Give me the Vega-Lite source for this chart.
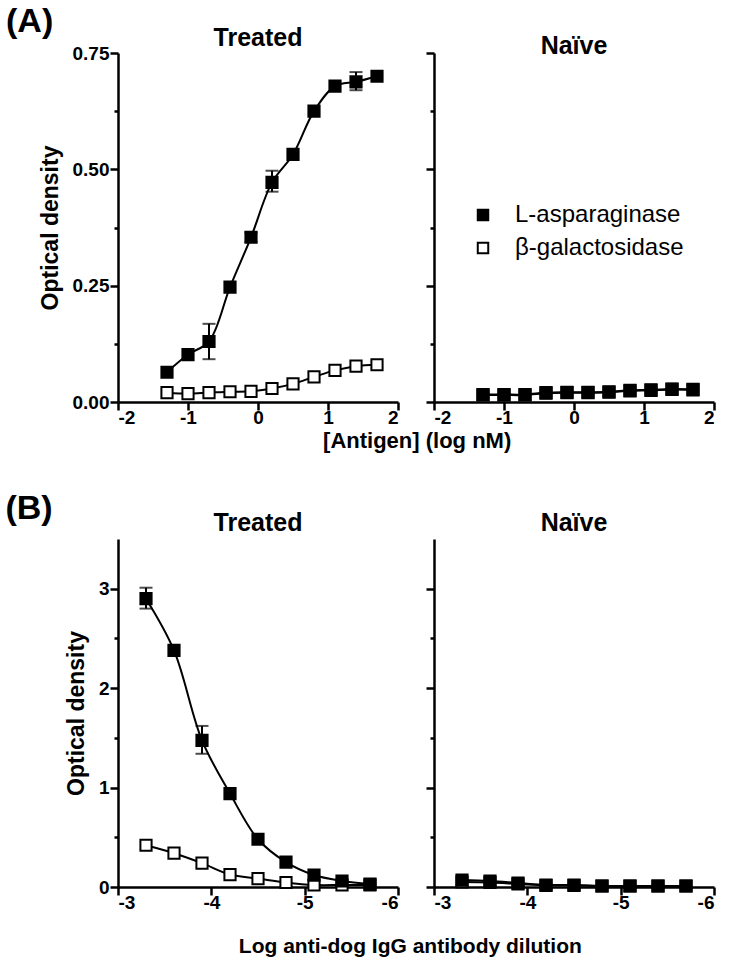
{
  "$schema": "https://vega.github.io/schema/vega-lite/v6.json",
  "background": "white",
  "padding": 5,
  "config": {
    "font": "Liberation Sans",
    "view": {"stroke": null},
    "axis": {
      "grid": false,
      "domainColor": "black",
      "domainWidth": 2.5,
      "tickColor": "black",
      "tickWidth": 2.5,
      "tickSize": 8,
      "labelColor": "black",
      "labelFont": "Liberation Sans",
      "labelFontWeight": "bold",
      "labelFontSize": 19,
      "labelPadding": 1,
      "titleColor": "black",
      "titleFont": "Liberation Sans",
      "titleFontWeight": "bold",
      "titleFontSize": 23,
      "titlePadding": 10
    },
    "axisX": {"labelPadding": -2},
    "legend": {"labelLimit": 400},
    "title": {"font": "Liberation Sans", "fontWeight": "bold", "color": "black"}
  },
  "datasets": {
    "antigen": [
      {"group": "Treated", "series": "β-galactosidase", "x": -1.3, "y": 0.020},
      {"group": "Treated", "series": "β-galactosidase", "x": -1.0, "y": 0.018},
      {"group": "Treated", "series": "β-galactosidase", "x": -0.7, "y": 0.020},
      {"group": "Treated", "series": "β-galactosidase", "x": -0.4, "y": 0.022},
      {"group": "Treated", "series": "β-galactosidase", "x": -0.1, "y": 0.023},
      {"group": "Treated", "series": "β-galactosidase", "x": 0.2, "y": 0.029},
      {"group": "Treated", "series": "β-galactosidase", "x": 0.5, "y": 0.039},
      {"group": "Treated", "series": "β-galactosidase", "x": 0.8, "y": 0.054},
      {"group": "Treated", "series": "β-galactosidase", "x": 1.1, "y": 0.068},
      {"group": "Treated", "series": "β-galactosidase", "x": 1.4, "y": 0.077},
      {"group": "Treated", "series": "β-galactosidase", "x": 1.7, "y": 0.080},
      {"group": "Treated", "series": "L-asparaginase", "x": -1.3, "y": 0.064},
      {"group": "Treated", "series": "L-asparaginase", "x": -1.0, "y": 0.102},
      {"group": "Treated", "series": "L-asparaginase", "x": -0.7, "y": 0.130, "lo": 0.092, "hi": 0.168},
      {"group": "Treated", "series": "L-asparaginase", "x": -0.4, "y": 0.247},
      {"group": "Treated", "series": "L-asparaginase", "x": -0.1, "y": 0.354, "lo": 0.344, "hi": 0.364},
      {"group": "Treated", "series": "L-asparaginase", "x": 0.2, "y": 0.472, "lo": 0.452, "hi": 0.497},
      {"group": "Treated", "series": "L-asparaginase", "x": 0.5, "y": 0.532},
      {"group": "Treated", "series": "L-asparaginase", "x": 0.8, "y": 0.625},
      {"group": "Treated", "series": "L-asparaginase", "x": 1.1, "y": 0.679},
      {"group": "Treated", "series": "L-asparaginase", "x": 1.4, "y": 0.688, "lo": 0.670, "hi": 0.709},
      {"group": "Treated", "series": "L-asparaginase", "x": 1.7, "y": 0.700},
      {"group": "Naïve", "series": "β-galactosidase", "x": -1.3, "y": 0.015},
      {"group": "Naïve", "series": "β-galactosidase", "x": -1.0, "y": 0.015},
      {"group": "Naïve", "series": "β-galactosidase", "x": -0.7, "y": 0.015},
      {"group": "Naïve", "series": "β-galactosidase", "x": -0.4, "y": 0.019},
      {"group": "Naïve", "series": "β-galactosidase", "x": -0.1, "y": 0.020},
      {"group": "Naïve", "series": "β-galactosidase", "x": 0.2, "y": 0.020},
      {"group": "Naïve", "series": "β-galactosidase", "x": 0.5, "y": 0.021},
      {"group": "Naïve", "series": "β-galactosidase", "x": 0.8, "y": 0.024},
      {"group": "Naïve", "series": "β-galactosidase", "x": 1.1, "y": 0.025},
      {"group": "Naïve", "series": "β-galactosidase", "x": 1.4, "y": 0.027},
      {"group": "Naïve", "series": "β-galactosidase", "x": 1.7, "y": 0.026},
      {"group": "Naïve", "series": "L-asparaginase", "x": -1.3, "y": 0.016},
      {"group": "Naïve", "series": "L-asparaginase", "x": -1.0, "y": 0.016},
      {"group": "Naïve", "series": "L-asparaginase", "x": -0.7, "y": 0.016},
      {"group": "Naïve", "series": "L-asparaginase", "x": -0.4, "y": 0.020},
      {"group": "Naïve", "series": "L-asparaginase", "x": -0.1, "y": 0.021},
      {"group": "Naïve", "series": "L-asparaginase", "x": 0.2, "y": 0.021},
      {"group": "Naïve", "series": "L-asparaginase", "x": 0.5, "y": 0.022},
      {"group": "Naïve", "series": "L-asparaginase", "x": 0.8, "y": 0.025},
      {"group": "Naïve", "series": "L-asparaginase", "x": 1.1, "y": 0.026},
      {"group": "Naïve", "series": "L-asparaginase", "x": 1.4, "y": 0.028},
      {"group": "Naïve", "series": "L-asparaginase", "x": 1.7, "y": 0.027}
    ],
    "dilution": [
      {"group": "Treated", "series": "β-galactosidase", "x": -3.3, "y": 0.42},
      {"group": "Treated", "series": "β-galactosidase", "x": -3.6, "y": 0.34},
      {"group": "Treated", "series": "β-galactosidase", "x": -3.9, "y": 0.24},
      {"group": "Treated", "series": "β-galactosidase", "x": -4.2, "y": 0.125},
      {"group": "Treated", "series": "β-galactosidase", "x": -4.5, "y": 0.085},
      {"group": "Treated", "series": "β-galactosidase", "x": -4.8, "y": 0.045},
      {"group": "Treated", "series": "β-galactosidase", "x": -5.1, "y": 0.02},
      {"group": "Treated", "series": "β-galactosidase", "x": -5.4, "y": 0.02},
      {"group": "Treated", "series": "β-galactosidase", "x": -5.7, "y": 0.02},
      {"group": "Treated", "series": "L-asparaginase", "x": -3.3, "y": 2.90, "lo": 2.80, "hi": 3.01},
      {"group": "Treated", "series": "L-asparaginase", "x": -3.6, "y": 2.38},
      {"group": "Treated", "series": "L-asparaginase", "x": -3.9, "y": 1.475, "lo": 1.34, "hi": 1.62},
      {"group": "Treated", "series": "L-asparaginase", "x": -4.2, "y": 0.94},
      {"group": "Treated", "series": "L-asparaginase", "x": -4.5, "y": 0.48},
      {"group": "Treated", "series": "L-asparaginase", "x": -4.8, "y": 0.25},
      {"group": "Treated", "series": "L-asparaginase", "x": -5.1, "y": 0.12},
      {"group": "Treated", "series": "L-asparaginase", "x": -5.4, "y": 0.06},
      {"group": "Treated", "series": "L-asparaginase", "x": -5.7, "y": 0.03},
      {"group": "Naïve", "series": "β-galactosidase", "x": -3.3, "y": 0.05},
      {"group": "Naïve", "series": "β-galactosidase", "x": -3.6, "y": 0.045},
      {"group": "Naïve", "series": "β-galactosidase", "x": -3.9, "y": 0.03},
      {"group": "Naïve", "series": "β-galactosidase", "x": -4.2, "y": 0.015},
      {"group": "Naïve", "series": "β-galactosidase", "x": -4.5, "y": 0.015},
      {"group": "Naïve", "series": "β-galactosidase", "x": -4.8, "y": 0.01},
      {"group": "Naïve", "series": "β-galactosidase", "x": -5.1, "y": 0.01},
      {"group": "Naïve", "series": "β-galactosidase", "x": -5.4, "y": 0.01},
      {"group": "Naïve", "series": "β-galactosidase", "x": -5.7, "y": 0.01},
      {"group": "Naïve", "series": "L-asparaginase", "x": -3.3, "y": 0.07},
      {"group": "Naïve", "series": "L-asparaginase", "x": -3.6, "y": 0.06},
      {"group": "Naïve", "series": "L-asparaginase", "x": -3.9, "y": 0.04},
      {"group": "Naïve", "series": "L-asparaginase", "x": -4.2, "y": 0.02},
      {"group": "Naïve", "series": "L-asparaginase", "x": -4.5, "y": 0.02},
      {"group": "Naïve", "series": "L-asparaginase", "x": -4.8, "y": 0.01},
      {"group": "Naïve", "series": "L-asparaginase", "x": -5.1, "y": 0.01},
      {"group": "Naïve", "series": "L-asparaginase", "x": -5.4, "y": 0.01},
      {"group": "Naïve", "series": "L-asparaginase", "x": -5.7, "y": 0.01}
    ]
  },
  "resolve": {"scale": {"fill": "shared"}, "legend": {"fill": "shared"}},
  "spacing": 40,
  "vconcat": [
    {
      "title": {"text": "(A)", "anchor": "start", "fontSize": 34, "offset": -13, "dx": -33},
      "resolve": {"scale": {"fill": "shared"}, "legend": {"fill": "shared"}},
      "vconcat": [
        {
          "title": {"text": "[Antigen] (log nM)", "orient": "bottom", "anchor": "middle", "fontSize": 22, "offset": 4, "dx": 40},
          "resolve": {"scale": {"fill": "shared"}, "legend": {"fill": "shared"}},
          "spacing": 24,
          "hconcat": [
            {
              "width": 280, "height": 349,
              "title": {"text": "Treated", "fontSize": 25, "offset": -7},
              "data": {"name": "antigen"},
              "transform": [{"filter": "datum.group == 'Treated'"}],
              "encoding": {
                "x": {"field": "x", "type": "quantitative", "scale": {"domain": [-2, 2], "nice": false, "zero": false},
                      "axis": {"title": null, "values": [-2, -1, 0, 1, 2], "labelExpr": "replace(datum.label, '−', '-')"}},
                "y": {"field": "y", "type": "quantitative", "scale": {"domain": [0, 0.75], "nice": false},
                      "axis": {"title": "Optical density", "values": [0, 0.125, 0.25, 0.375, 0.5, 0.625, 0.75],
                               "labelExpr": "datum.value % 0.25 == 0 ? format(datum.value, '.2f') : ''",
                               "tickSize": {"condition": {"test": "datum.value % 0.25 == 0", "value": 8}, "value": 4}}}
              },
              "layer": [
                {"mark": {"type": "line", "interpolate": "catmull-rom", "color": "black", "strokeWidth": 2},
                 "encoding": {"detail": {"field": "series"}}},
                {"transform": [{"filter": "isValid(datum.lo)"}],
                 "mark": {"type": "rule", "color": "black", "strokeWidth": 2},
                 "encoding": {"y": {"field": "lo", "type": "quantitative"}, "y2": {"field": "hi"}}},
                {"transform": [{"filter": "isValid(datum.lo)"}],
                 "mark": {"type": "tick", "orient": "horizontal", "size": 13, "thickness": 2, "color": "black"},
                 "encoding": {"y": {"field": "lo", "type": "quantitative"}}},
                {"transform": [{"filter": "isValid(datum.hi)"}],
                 "mark": {"type": "tick", "orient": "horizontal", "size": 13, "thickness": 2, "color": "black"},
                 "encoding": {"y": {"field": "hi", "type": "quantitative"}}},
                {"mark": {"type": "point", "shape": "square", "filled": true, "size": 125, "stroke": "black", "strokeWidth": 2, "opacity": 1},
                 "encoding": {"fill": {"field": "series", "type": "nominal",
                   "scale": {"domain": ["L-asparaginase", "β-galactosidase"], "range": ["black", "white"]},
                   "legend": {"orient": "none", "legendX": 353, "legendY": 150, "title": null, "symbolType": "square", "symbolSize": 110,
                              "symbolStrokeColor": "black", "symbolStrokeWidth": 2, "symbolOpacity": 1,
                              "labelFont": "Liberation Sans", "labelFontSize": 24, "labelFontWeight": "normal", "labelColor": "black",
                              "labelOffset": 20, "rowPadding": 9, "labelLimit": 400}}}}
              ]
            },
            {
              "width": 280, "height": 349,
              "title": {"text": "Naïve", "fontSize": 25, "offset": -7},
              "data": {"name": "antigen"},
              "transform": [{"filter": "datum.group == 'Naïve'"}],
              "encoding": {
                "x": {"field": "x", "type": "quantitative", "scale": {"domain": [-2, 2], "nice": false, "zero": false},
                      "axis": {"title": null, "values": [-2, -1, 0, 1, 2], "labelExpr": "replace(datum.label, '−', '-')"}},
                "y": {"field": "y", "type": "quantitative", "scale": {"domain": [0, 0.75], "nice": false},
                      "axis": {"title": null, "labels": false, "values": [0, 0.125, 0.25, 0.375, 0.5, 0.625, 0.75],
                               "tickSize": {"condition": {"test": "datum.value % 0.25 == 0", "value": 8}, "value": 4}}}
              },
              "layer": [
                {"mark": {"type": "line", "interpolate": "catmull-rom", "color": "black", "strokeWidth": 2},
                 "encoding": {"detail": {"field": "series"}}},
                {"mark": {"type": "point", "shape": "square", "filled": true, "size": 125, "stroke": "black", "strokeWidth": 2, "opacity": 1},
                 "encoding": {"fill": {"field": "series", "type": "nominal",
                   "scale": {"domain": ["L-asparaginase", "β-galactosidase"], "range": ["black", "white"]},
                   "legend": {"orient": "none", "legendX": 353, "legendY": 150, "title": null, "symbolType": "square", "symbolSize": 110,
                              "symbolStrokeColor": "black", "symbolStrokeWidth": 2, "symbolOpacity": 1,
                              "labelFont": "Liberation Sans", "labelFontSize": 24, "labelFontWeight": "normal", "labelColor": "black",
                              "labelOffset": 20, "rowPadding": 9, "labelLimit": 400}}}}
              ]
            }
          ]
        }
      ]
    },
    {
      "title": {"text": "(B)", "anchor": "start", "fontSize": 34, "offset": -15, "dx": -60},
      "resolve": {"scale": {"fill": "shared"}, "legend": {"fill": "shared"}},
      "vconcat": [
        {
          "title": {"text": "Log anti-dog IgG antibody dilution", "orient": "bottom", "anchor": "middle", "fontSize": 21, "offset": 24, "dx": 20},
          "resolve": {"scale": {"fill": "shared"}, "legend": {"fill": "shared"}},
          "spacing": 24,
          "hconcat": [
            {
              "width": 280, "height": 348,
              "title": {"text": "Treated", "fontSize": 25, "offset": 3},
              "data": {"name": "dilution"},
              "transform": [{"filter": "datum.group == 'Treated'"}],
              "encoding": {
                "x": {"field": "x", "type": "quantitative", "scale": {"domain": [-6, -3], "reverse": true, "nice": false, "zero": false},
                      "axis": {"title": null, "values": [-3, -4, -5, -6], "labelExpr": "replace(datum.label, '−', '-')"}},
                "y": {"field": "y", "type": "quantitative", "scale": {"domain": [0, 3.5], "nice": false},
                      "axis": {"title": "Optical density", "values": [0, 0.5, 1, 1.5, 2, 2.5, 3],
                               "labelExpr": "datum.value % 1 == 0 ? format(datum.value, 'd') : ''",
                               "tickSize": {"condition": {"test": "datum.value % 1 == 0", "value": 8}, "value": 4}}}
              },
              "layer": [
                {"mark": {"type": "line", "interpolate": "catmull-rom", "color": "black", "strokeWidth": 2},
                 "encoding": {"detail": {"field": "series"}}},
                {"transform": [{"filter": "isValid(datum.lo)"}],
                 "mark": {"type": "rule", "color": "black", "strokeWidth": 2},
                 "encoding": {"y": {"field": "lo", "type": "quantitative"}, "y2": {"field": "hi"}}},
                {"transform": [{"filter": "isValid(datum.lo)"}],
                 "mark": {"type": "tick", "orient": "horizontal", "size": 13, "thickness": 2, "color": "black"},
                 "encoding": {"y": {"field": "lo", "type": "quantitative"}}},
                {"transform": [{"filter": "isValid(datum.hi)"}],
                 "mark": {"type": "tick", "orient": "horizontal", "size": 13, "thickness": 2, "color": "black"},
                 "encoding": {"y": {"field": "hi", "type": "quantitative"}}},
                {"mark": {"type": "point", "shape": "square", "filled": true, "size": 125, "stroke": "black", "strokeWidth": 2, "opacity": 1},
                 "encoding": {"fill": {"field": "series", "type": "nominal",
                   "scale": {"domain": ["L-asparaginase", "β-galactosidase"], "range": ["black", "white"]},
                   "legend": {"orient": "none", "legendX": 353, "legendY": 150, "title": null, "symbolType": "square", "symbolSize": 110,
                              "symbolStrokeColor": "black", "symbolStrokeWidth": 2, "symbolOpacity": 1,
                              "labelFont": "Liberation Sans", "labelFontSize": 24, "labelFontWeight": "normal", "labelColor": "black",
                              "labelOffset": 20, "rowPadding": 9, "labelLimit": 400}}}}
              ]
            },
            {
              "width": 280, "height": 348,
              "title": {"text": "Naïve", "fontSize": 25, "offset": 3},
              "data": {"name": "dilution"},
              "transform": [{"filter": "datum.group == 'Naïve'"}],
              "encoding": {
                "x": {"field": "x", "type": "quantitative", "scale": {"domain": [-6, -3], "reverse": true, "nice": false, "zero": false},
                      "axis": {"title": null, "values": [-3, -4, -5, -6], "labelExpr": "replace(datum.label, '−', '-')"}},
                "y": {"field": "y", "type": "quantitative", "scale": {"domain": [0, 3.5], "nice": false},
                      "axis": {"title": null, "labels": false, "values": [0, 0.5, 1, 1.5, 2, 2.5, 3],
                               "tickSize": {"condition": {"test": "datum.value % 1 == 0", "value": 8}, "value": 4}}}
              },
              "layer": [
                {"mark": {"type": "line", "interpolate": "catmull-rom", "color": "black", "strokeWidth": 2},
                 "encoding": {"detail": {"field": "series"}}},
                {"mark": {"type": "point", "shape": "square", "filled": true, "size": 125, "stroke": "black", "strokeWidth": 2, "opacity": 1},
                 "encoding": {"fill": {"field": "series", "type": "nominal",
                   "scale": {"domain": ["L-asparaginase", "β-galactosidase"], "range": ["black", "white"]},
                   "legend": {"orient": "none", "legendX": 353, "legendY": 150, "title": null, "symbolType": "square", "symbolSize": 110,
                              "symbolStrokeColor": "black", "symbolStrokeWidth": 2, "symbolOpacity": 1,
                              "labelFont": "Liberation Sans", "labelFontSize": 24, "labelFontWeight": "normal", "labelColor": "black",
                              "labelOffset": 20, "rowPadding": 9, "labelLimit": 400}}}}
              ]
            }
          ]
        }
      ]
    }
  ]
}
